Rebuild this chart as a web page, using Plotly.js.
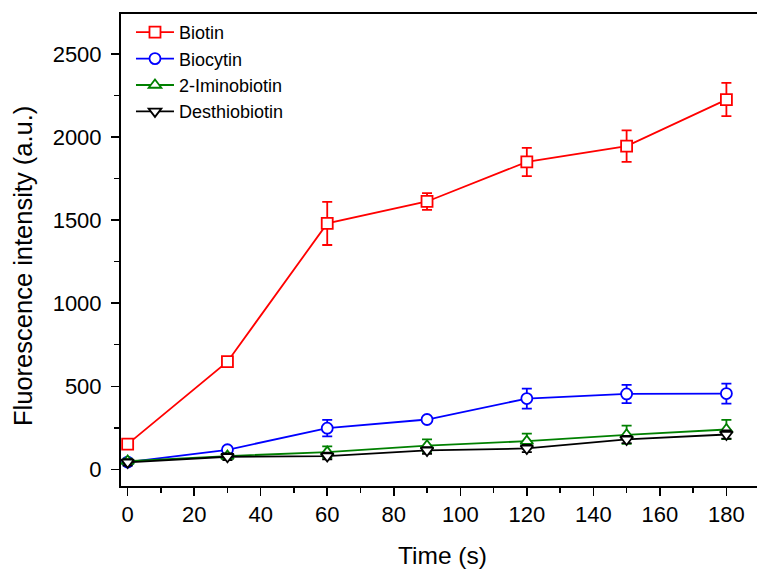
<!DOCTYPE html>
<html>
<head>
<meta charset="utf-8">
<script src="https://cdn.plot.ly/plotly-3.0.1.min.js"></script>
<style>html,body{margin:0;padding:0;background:#fff;}#chart{width:757px;height:570px;}</style>
</head>
<body>
<div id="chart"></div>
<script>
const time = [0, 30, 60, 90, 120, 150, 180];
const seriesNames = ["Biotin", "Biocytin", "2-Iminobiotin", "Desthiobiotin"];
const biotin = [152, 648, 1480, 1612, 1850, 1945, 2225];
const biotinErr = [20, 25, 130, 50, 85, 95, 100];
const biocytin = [44, 118, 248, 300, 426, 454, 456];
const biocytinErr = [10, 15, 50, 15, 60, 55, 60];
const iminobiotin = [50, 80, 104, 143, 170, 208, 240];
const iminobiotinErr = [15, 15, 35, 38, 45, 55, 58];
const desthiobiotin = [42, 76, 80, 114, 126, 180, 210];
const desthiobiotinErr = [20, 20, 20, 20, 22, 22, 25];
const xTicks = [0, 20, 40, 60, 80, 100, 120, 140, 160, 180];
const yTicks = [0, 500, 1000, 1500, 2000, 2500];
const xTitle = "Time (s)";
const yTitle = "Fluorescence intensity (a.u.)";

const colors = ["#ff0000", "#0000ff", "#008000", "#000000"];
const symbols = ["square", "circle", "triangle-up", "triangle-down"];
const ys = [biotin, biocytin, iminobiotin, desthiobiotin];
const errs = [biotinErr, biocytinErr, iminobiotinErr, desthiobiotinErr];

const traces = seriesNames.map((n, i) => ({
  x: time, y: ys[i], name: n, type: "scatter", mode: "lines+markers",
  line: {color: colors[i], width: 1.8},
  marker: {symbol: symbols[i], size: 11, color: "#ffffff", line: {color: colors[i], width: 1.8}},
  error_y: {type: "data", array: errs[i], visible: true, color: colors[i], thickness: 1.8, width: 5}
}));

const font = "Arial, 'Liberation Sans', sans-serif";
const layout = {
  width: 757, height: 570,
  margin: {l: 121, r: 0, t: 14, b: 84},
  paper_bgcolor: "#fff", plot_bgcolor: "#fff",
  font: {family: font, color: "#000", size: 22},
  showlegend: true,
  legend: {x: 0.0157, y: 1.0, xanchor: "left", yanchor: "top", bgcolor: "rgba(0,0,0,0)",
           font: {family: font, size: 18}, tracegroupgap: 0, itemwidth: 38},
  xaxis: {
    range: [-2, 189.2], tickvals: xTicks, ticktext: xTicks.map(String),
    showgrid: false, zeroline: false, showline: true, linecolor: "#000", linewidth: 2, mirror: true,
    ticks: "outside", ticklen: 8, tickwidth: 1.5, tickcolor: "#000",
    minor: {tickvals: [10, 30, 50, 70, 90, 110, 130, 150, 170], ticks: "outside", ticklen: 5, tickwidth: 1.5, tickcolor: "#000", showgrid: false},
    tickfont: {size: 22}
  },
  yaxis: {
    range: [-100, 2740], tickvals: yTicks, ticktext: yTicks.map(String),
    showgrid: false, zeroline: false, showline: true, linecolor: "#000", linewidth: 2, mirror: false,
    ticks: "outside", ticklen: 8, tickwidth: 1.5, tickcolor: "#000", ticklabelstandoff: 5,
    minor: {tickvals: [250, 750, 1250, 1750, 2250], ticks: "outside", ticklen: 5, tickwidth: 1.5, tickcolor: "#000", showgrid: false},
    tickfont: {size: 22}
  },
  annotations: [
    {text: xTitle, xref: "paper", yref: "paper", x: (442 - 121) / 636, y: (486 - 555) / 472,
     xanchor: "center", yanchor: "middle", showarrow: false, font: {size: 24.5}},
    {text: yTitle, xref: "paper", yref: "paper", x: (23 - 121) / 636, y: (486 - 266) / 472,
     xanchor: "center", yanchor: "middle", textangle: -90, showarrow: false, font: {size: 25.5}}
  ]
};
Plotly.newPlot("chart", traces, layout, {displayModeBar: false, staticPlot: true});
</script>
</body>
</html>
